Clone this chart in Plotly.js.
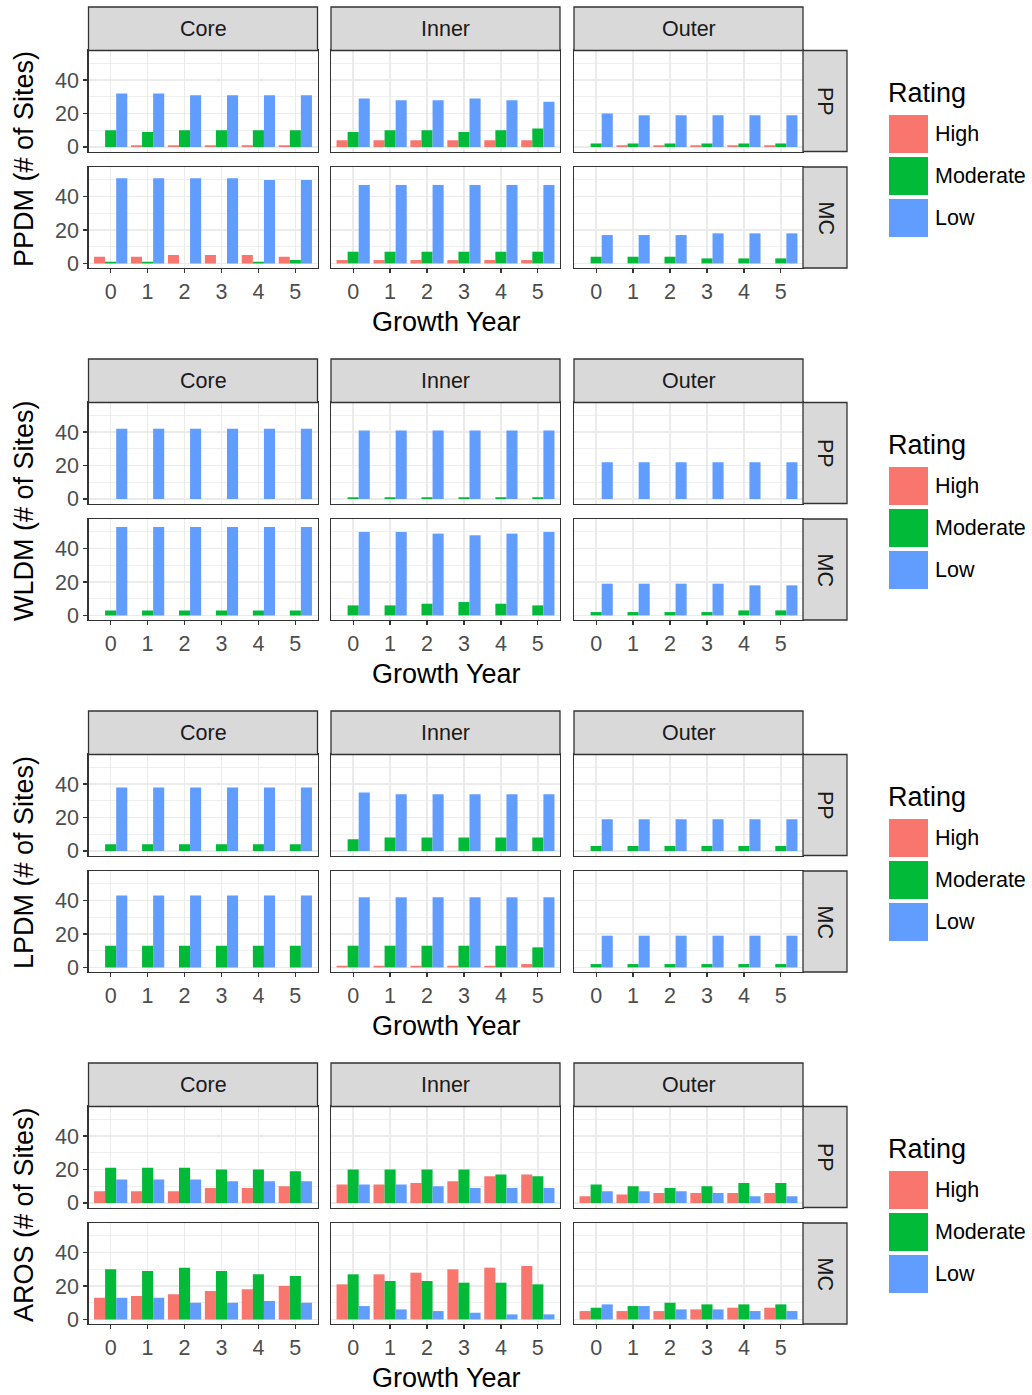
<!DOCTYPE html>
<html>
<head>
<meta charset="utf-8">
<script src="https://cdn.plot.ly/plotly-3.0.1.min.js"></script>
<style>html,body{margin:0;padding:0;background:#fff;}#chart{width:1032px;height:1395px;}</style>
</head>
<body>
<div id="chart"></div>
<script>
// ---------------- DATA ----------------
const years = [0, 1, 2, 3, 4, 5];
const ratings = ['High', 'Moderate', 'Low'];
const zones = ['Core', 'Inner', 'Outer'];
const regions = ['PP', 'MC'];
const metrics = ['PPDM', 'WLDM', 'LPDM', 'AROS'];
const yTickVals = [0, 20, 40];
const xAxisTitle = 'Growth Year';
const legendTitle = 'Rating';

// each array: rows = High, Moderate, Low ; columns = years 0..5
const PPDM_PP_Core  = [[0,1,1,1,1,1],[10,9,10,10,10,10],[32,32,31,31,31,31]];
const PPDM_PP_Inner = [[4,4,4,4,4,4],[9,10,10,9,10,11],[29,28,28,29,28,27]];
const PPDM_PP_Outer = [[0,1,1,1,1,1],[2,2,2,2,2,2],[20,19,19,19,19,19]];
const PPDM_MC_Core  = [[4,4,5,5,5,4],[1,1,0,0,1,2],[51,51,51,51,50,50]];
const PPDM_MC_Inner = [[2,2,2,2,2,2],[7,7,7,7,7,7],[47,47,47,47,47,47]];
const PPDM_MC_Outer = [[0,0,0,0,0,0],[4,4,4,3,3,3],[17,17,17,18,18,18]];

const WLDM_PP_Core  = [[0,0,0,0,0,0],[0,0,0,0,0,0],[42,42,42,42,42,42]];
const WLDM_PP_Inner = [[0,0,0,0,0,0],[1,1,1,1,1,1],[41,41,41,41,41,41]];
const WLDM_PP_Outer = [[0,0,0,0,0,0],[0,0,0,0,0,0],[22,22,22,22,22,22]];
const WLDM_MC_Core  = [[0,0,0,0,0,0],[3,3,3,3,3,3],[53,53,53,53,53,53]];
const WLDM_MC_Inner = [[0,0,0,0,0,0],[6,6,7,8,7,6],[50,50,49,48,49,50]];
const WLDM_MC_Outer = [[0,0,0,0,0,0],[2,2,2,2,3,3],[19,19,19,19,18,18]];

const LPDM_PP_Core  = [[0,0,0,0,0,0],[4,4,4,4,4,4],[38,38,38,38,38,38]];
const LPDM_PP_Inner = [[0,0,0,0,0,0],[7,8,8,8,8,8],[35,34,34,34,34,34]];
const LPDM_PP_Outer = [[0,0,0,0,0,0],[3,3,3,3,3,3],[19,19,19,19,19,19]];
const LPDM_MC_Core  = [[0,0,0,0,0,0],[13,13,13,13,13,13],[43,43,43,43,43,43]];
const LPDM_MC_Inner = [[1,1,1,1,1,2],[13,13,13,13,13,12],[42,42,42,42,42,42]];
const LPDM_MC_Outer = [[0,0,0,0,0,0],[2,2,2,2,2,2],[19,19,19,19,19,19]];

const AROS_PP_Core  = [[7,7,7,9,9,10],[21,21,21,20,20,19],[14,14,14,13,13,13]];
const AROS_PP_Inner = [[11,11,12,13,16,17],[20,20,20,20,17,16],[11,11,10,9,9,9]];
const AROS_PP_Outer = [[4,5,6,6,6,6],[11,10,9,10,12,12],[7,7,7,6,4,4]];
const AROS_MC_Core  = [[13,14,15,17,18,20],[30,29,31,29,27,26],[13,13,10,10,11,10]];
const AROS_MC_Inner = [[21,27,28,30,31,32],[27,23,23,22,22,21],[8,6,5,4,3,3]];
const AROS_MC_Outer = [[5,5,5,6,7,7],[7,8,10,9,9,9],[9,8,6,6,5,5]];

// lookup table built from the named arrays
const panelData = {
  PPDM: {PP: [PPDM_PP_Core, PPDM_PP_Inner, PPDM_PP_Outer], MC: [PPDM_MC_Core, PPDM_MC_Inner, PPDM_MC_Outer]},
  WLDM: {PP: [WLDM_PP_Core, WLDM_PP_Inner, WLDM_PP_Outer], MC: [WLDM_MC_Core, WLDM_MC_Inner, WLDM_MC_Outer]},
  LPDM: {PP: [LPDM_PP_Core, LPDM_PP_Inner, LPDM_PP_Outer], MC: [LPDM_MC_Core, LPDM_MC_Inner, LPDM_MC_Outer]},
  AROS: {PP: [AROS_PP_Core, AROS_PP_Inner, AROS_PP_Outer], MC: [AROS_MC_Core, AROS_MC_Inner, AROS_MC_Outer]}
};

// ---------------- STYLE / LAYOUT ----------------
const W = 1032, H = 1395;
const colors = ['#F8766D', '#00BA38', '#619CFF'];
const FONT = 'Liberation Sans, Arial, Helvetica, sans-serif';
const SMALL = 21.5, BIG = 27;
const fx = p => p / W;
const fy = p => 1 - p / H;

const blockH = 352;
const colX0 = [88.5, 331, 574];
const panelW = 229;
const rowY0 = [50.5, 167];
const panelH = 101;
const yRange = [-2.75, 57.75];

const traces = [];
const layout = {
  width: W, height: H,
  margin: {l: 0, r: 0, t: 0, b: 0, pad: 0},
  paper_bgcolor: '#ffffff', plot_bgcolor: '#ffffff',
  barmode: 'group', bargap: 0.1, bargroupgap: 0,
  showlegend: false,
  font: {family: FONT},
  shapes: [], annotations: []
};

metrics.forEach((m, b) => {
  const oy = b * blockH;
  regions.forEach((rg, r) => {
    zones.forEach((z, c) => {
      const k = b * 6 + r * 3 + c + 1;
      const xa = 'x' + (k === 1 ? '' : k);
      const ya = 'y' + (k === 1 ? '' : k);
      const vals = panelData[m][rg][c];
      ratings.forEach((rt, i) => {
        traces.push({
          type: 'bar', x: years, y: vals[i], name: rt,
          xaxis: xa, yaxis: ya,
          marker: {color: colors[i], line: {width: 0}},
          hoverinfo: 'x+y+name'
        });
      });
      const x0 = colX0[c], x1 = x0 + panelW;
      const y0 = rowY0[r] + oy, y1 = y0 + panelH;
      const bottom = (r === 1);
      layout['xaxis' + (k === 1 ? '' : k)] = {
        domain: [fx(x0), fx(x1)], anchor: ya,
        range: [-0.6, 5.6], tickvals: years, ticktext: years.map(String),
        showgrid: true, gridcolor: '#EBEBEB', gridwidth: 1.6,
        zeroline: false, showline: true, mirror: true, linecolor: '#333333', linewidth: 1.3,
        ticks: bottom ? 'outside' : '', ticklen: 4, tickwidth: 1.3, tickcolor: '#333333',
        showticklabels: bottom, tickfont: {size: SMALL, color: '#4D4D4D', family: FONT},
        fixedrange: true
      };
      layout['yaxis' + (k === 1 ? '' : k)] = {
        domain: [fy(y1), fy(y0)], anchor: xa,
        range: yRange, tickvals: yTickVals,
        showgrid: true, gridcolor: '#EBEBEB', gridwidth: 1.6,
        minor: {dtick: 10, tick0: 0, showgrid: true, gridcolor: '#EBEBEB', gridwidth: 0.8, ticks: ''},
        zeroline: false, showline: true, mirror: true, linecolor: '#333333', linewidth: 1.3,
        ticks: c === 0 ? 'outside' : '', ticklen: 4, tickwidth: 1.3, tickcolor: '#333333',
        showticklabels: c === 0, tickfont: {size: SMALL, color: '#4D4D4D', family: FONT},
        fixedrange: true
      };
      // right strip
      if (c === 2) {
        layout.shapes.push({type: 'rect', xref: 'paper', yref: 'paper',
          x0: fx(x1), x1: fx(847), y0: fy(y1), y1: fy(y0),
          fillcolor: '#D9D9D9', line: {color: '#333333', width: 1.3}});
        layout.annotations.push({xref: 'paper', yref: 'paper', x: fx((x1 + 847) / 2), y: fy((y0 + y1) / 2),
          text: rg, showarrow: false, textangle: 90, xanchor: 'center', yanchor: 'middle',
          font: {size: SMALL, color: '#1A1A1A', family: FONT}});
      }
    });
  });
  // top strips
  zones.forEach((z, c) => {
    const x0 = colX0[c], x1 = x0 + panelW;
    layout.shapes.push({type: 'rect', xref: 'paper', yref: 'paper',
      x0: fx(x0), x1: fx(x1), y0: fy(rowY0[0] + oy), y1: fy(7 + oy),
      fillcolor: '#D9D9D9', line: {color: '#333333', width: 1.3}});
    layout.annotations.push({xref: 'paper', yref: 'paper', x: fx((x0 + x1) / 2), y: fy(29 + oy),
      text: z, showarrow: false, xanchor: 'center', yanchor: 'middle',
      font: {size: SMALL, color: '#1A1A1A', family: FONT}});
  });
  // axis titles
  layout.annotations.push({xref: 'paper', yref: 'paper', x: fx(446), y: fy(322 + oy),
    text: xAxisTitle, showarrow: false, xanchor: 'center', yanchor: 'middle',
    font: {size: BIG, color: '#000000', family: FONT}});
  layout.annotations.push({xref: 'paper', yref: 'paper', x: fx(24), y: fy(159 + oy),
    text: m + ' (# of Sites)', showarrow: false, textangle: -90, xanchor: 'center', yanchor: 'middle',
    font: {size: BIG, color: '#000000', family: FONT}});
  // legend
  layout.annotations.push({xref: 'paper', yref: 'paper', x: fx(886), y: fy(93 + oy),
    text: legendTitle, showarrow: false, xanchor: 'left', yanchor: 'middle',
    font: {size: BIG, color: '#000000', family: FONT}});
  ratings.forEach((rt, i) => {
    const ky0 = 115 + i * 42 + oy;
    layout.shapes.push({type: 'rect', xref: 'paper', yref: 'paper',
      x0: fx(889), x1: fx(928), y0: fy(ky0 + 38), y1: fy(ky0),
      fillcolor: colors[i], line: {width: 0}});
    layout.annotations.push({xref: 'paper', yref: 'paper', x: fx(933), y: fy(ky0 + 19),
      text: rt, showarrow: false, xanchor: 'left', yanchor: 'middle',
      font: {size: SMALL, color: '#000000', family: FONT}});
  });
});

Plotly.newPlot('chart', traces, layout, {staticPlot: true, displayModeBar: false});
</script>
</body>
</html>
